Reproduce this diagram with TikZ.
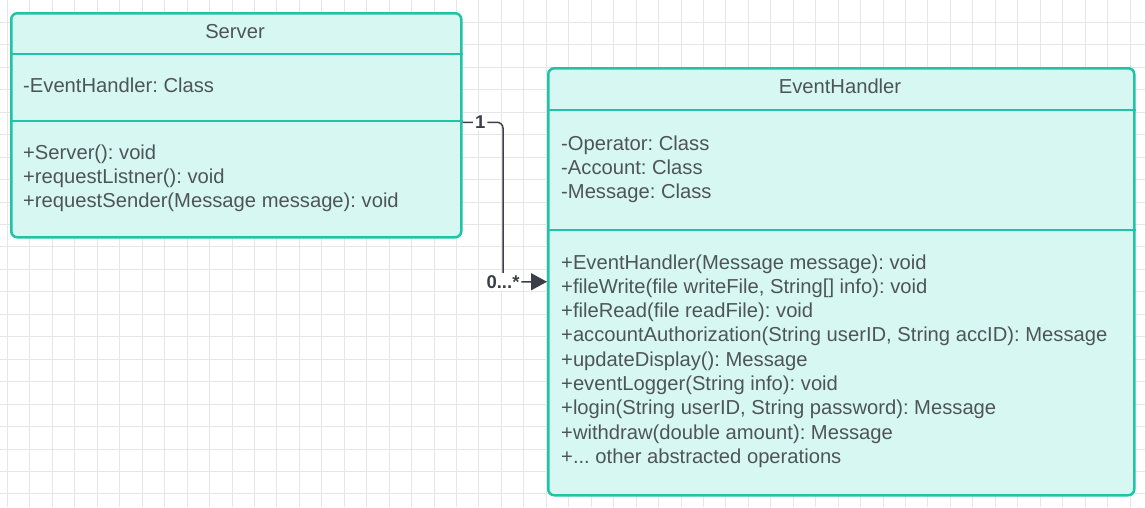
\documentclass[tikz,border=0pt]{standalone}
\usepackage{fontspec}
\setmainfont{Liberation Sans}
\usetikzlibrary{positioning,arrows.meta}

\definecolor{umlborder}{HTML}{1FC4A6}
\definecolor{umlfill}{HTML}{D7F8F2}
\definecolor{umltext}{HTML}{4E5457}
\definecolor{gridgray}{HTML}{E6E6E6}
\definecolor{linkgray}{HTML}{3A3F48}

\def\rowskip{24.3}
\def\ehdots{...}
\frenchspacing

\begin{document}
\begin{tikzpicture}[x=1pt, y=-1pt,
  gridline/.style={gridgray, line width=1pt},
  classbox/.style={draw=umlborder, fill=umlfill, line width=2.5pt, rounded corners=6pt, anchor=north west, inner sep=0pt},
  sepline/.style={umlborder, line width=2.5pt},
  classname/.style={anchor=base, inner sep=0pt, text=umltext, font=\fontsize{20.2}{24}\selectfont},
  member/.style={anchor=base west, inner sep=0pt, text=umltext, font=\fontsize{20.2}{24}\selectfont},
  link/.style={linkgray, line width=1.5pt, rounded corners=6pt, -{Triangle[length=16pt, width=17pt]}},
  mult/.style={fill=white, inner sep=2pt, text=linkgray, font=\bfseries\fontsize{18.5}{22}\selectfont}]
  \useasboundingbox (0,0) rectangle (1145,507);

  % background grid
  \foreach \gx in {0,...,50}
    \draw [gridline] (7.5+22.45*\gx, 0) -- (7.5+22.45*\gx, 507);
  \foreach \gy in {1,...,22}
    \draw [gridline] (0, 22.45*\gy) -- (1145, 22.45*\gy);

  % Server class
  \node [classbox, minimum width=450pt, minimum height=224pt] (server) at (10, 12) {};
  \draw [sepline] ([yshift=-42pt]server.north west) -- ([yshift=-42pt]server.north east);
  \draw [sepline] ([yshift=-109pt]server.north west) -- ([yshift=-109pt]server.north east);
  \node [classname] (srvname) at (235, 38) {Server};
  \node [member] (srvattr) at (23, 92) {-EventHandler: Class};
  \foreach \txt [count=\i from 0] in {{+Server(): void}, {+requestListner(): void},
      {+requestSender(Message message): void}}
    \node [member] (srvop\i) at (23, 159+\rowskip*\i) {\txt};

  % EventHandler class
  \node [classbox, minimum width=586pt, minimum height=427pt] (handler) at (547, 67) {};
  \draw [sepline] ([yshift=-43pt]handler.north west) -- ([yshift=-43pt]handler.north east);
  \draw [sepline] ([yshift=-163pt]handler.north west) -- ([yshift=-163pt]handler.north east);
  \node [classname] (ehname) at (840, 93) {EventHandler};
  \foreach \txt [count=\i from 0] in {{-Operator: Class}, {-Account: Class}, {-Message: Class}}
    \node [member] (ehattr\i) at (561, 150+\rowskip*\i) {\txt};
  \foreach \txt [count=\i from 0] in {{+EventHandler(Message message): void},
      {+fileWrite(file writeFile, String[] info): void},
      {+fileRead(file readFile): void},
      {+accountAuthorization(String userID, String accID): Message},
      {+updateDisplay(): Message},
      {+eventLogger(String info): void},
      {+login(String userID, String password): Message},
      {+withdraw(double amount): Message},
      {+\ehdots{} other abstracted operations}}
    \node [member] (ehop\i) at (561, 269+\rowskip*\i) {\txt};

  % association
  \draw [link] ([yshift=3pt]server.east) -| node [mult, pos=0.22] (onelbl) {1}
    node [mult, pos=1] (manylbl) {0...*} ([xshift=-44pt]handler.west) -- (handler.west);

\end{tikzpicture}
\end{document}
